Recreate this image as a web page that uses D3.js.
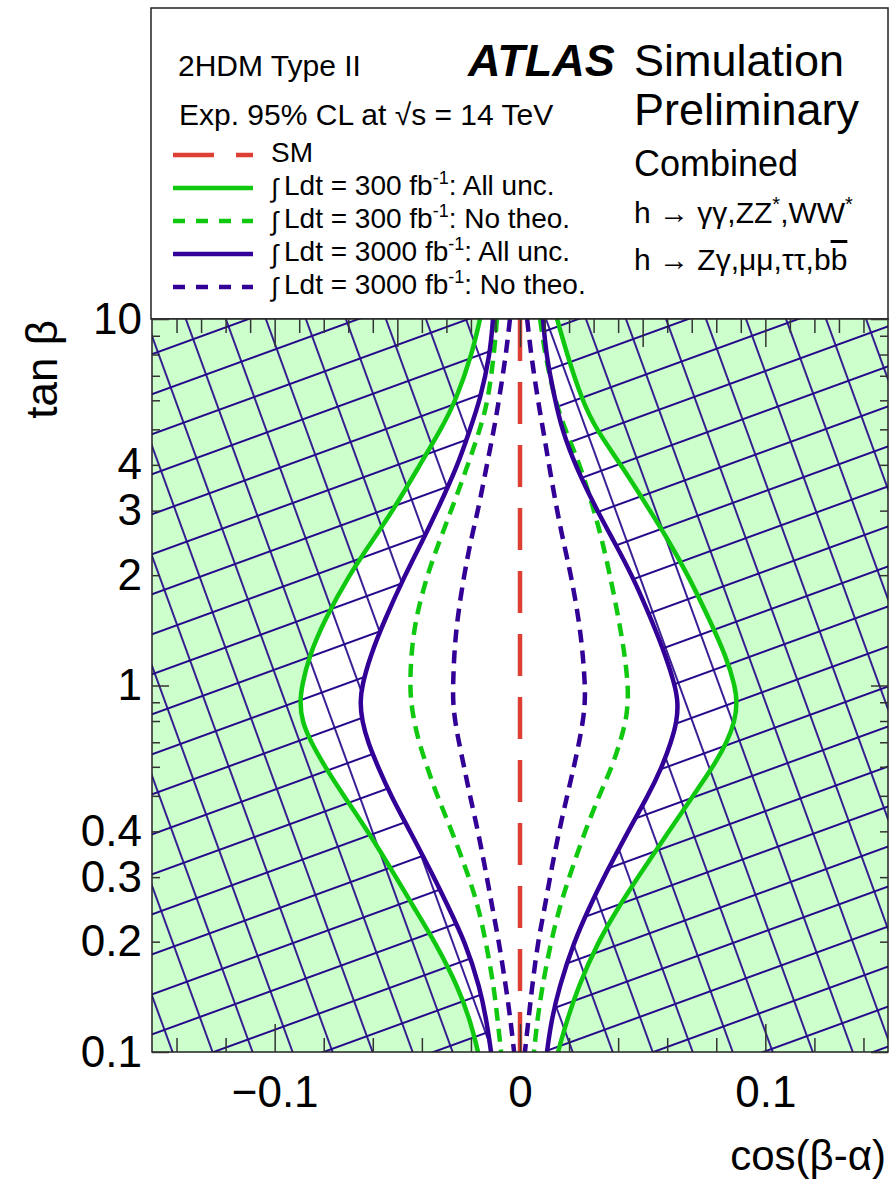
<!DOCTYPE html>
<html>
<head>
<meta charset="utf-8">
<script src="https://cdn.jsdelivr.net/npm/d3@7"></script>
<style>
  body { margin: 0; background: #fff; }
  text { font-family: "Liberation Sans", Arial, sans-serif; fill: #000; }
</style>
</head>
<body>
<div id="chart"></div>
<script>
// tan(beta) sample points, top to bottom
const tanBeta = [10, 8, 6, 5, 4, 3, 2.5, 2, 1.5, 1.2, 1, 0.9, 0.8, 0.7, 0.6, 0.5, 0.4, 0.3, 0.25, 0.2, 0.15, 0.12, 0.1];

// cos(beta-alpha) contour edges (left / right) for each scenario
const all300Lo = [-0.0163, -0.0196, -0.0261, -0.0322, -0.0408, -0.0518, -0.0599, -0.0697, -0.0799, -0.0860, -0.0889, -0.0897, -0.0889, -0.0852, -0.0795, -0.0718, -0.0620, -0.0505, -0.0436, -0.0347, -0.0251, -0.0200, -0.0171];
const all300Hi = [0.0151, 0.0192, 0.0253, 0.0310, 0.0412, 0.0530, 0.0603, 0.0685, 0.0775, 0.0840, 0.0876, 0.0885, 0.0876, 0.0844, 0.0787, 0.0705, 0.0607, 0.0481, 0.0404, 0.0318, 0.0236, 0.0188, 0.0155];
const noTheo300Lo = [-0.0094, -0.0106, -0.0130, -0.0163, -0.0212, -0.0281, -0.0326, -0.0379, -0.0428, -0.0444, -0.0448, -0.0444, -0.0432, -0.0412, -0.0379, -0.0338, -0.0277, -0.0208, -0.0171, -0.0139, -0.0106, -0.0090, -0.0077];
const noTheo300Hi = [0.0082, 0.0102, 0.0143, 0.0183, 0.0245, 0.0302, 0.0334, 0.0367, 0.0404, 0.0428, 0.0440, 0.0440, 0.0432, 0.0408, 0.0375, 0.0322, 0.0265, 0.0200, 0.0163, 0.0126, 0.0090, 0.0069, 0.0057];
const all3000Lo = [-0.0110, -0.0122, -0.0163, -0.0204, -0.0253, -0.0338, -0.0395, -0.0469, -0.0554, -0.0611, -0.0644, -0.0652, -0.0644, -0.0620, -0.0579, -0.0526, -0.0448, -0.0351, -0.0294, -0.0224, -0.0163, -0.0135, -0.0118];
const all3000Hi = [0.0094, 0.0106, 0.0143, 0.0171, 0.0224, 0.0314, 0.0379, 0.0457, 0.0538, 0.0595, 0.0632, 0.0644, 0.0640, 0.0616, 0.0579, 0.0522, 0.0440, 0.0342, 0.0285, 0.0220, 0.0159, 0.0126, 0.0110];
const noTheo3000Lo = [-0.0041, -0.0057, -0.0086, -0.0106, -0.0135, -0.0171, -0.0200, -0.0228, -0.0257, -0.0269, -0.0273, -0.0273, -0.0265, -0.0249, -0.0228, -0.0204, -0.0171, -0.0135, -0.0114, -0.0086, -0.0057, -0.0037, -0.0024];
const noTheo3000Hi = [0.0029, 0.0045, 0.0073, 0.0094, 0.0118, 0.0151, 0.0175, 0.0208, 0.0241, 0.0257, 0.0265, 0.0265, 0.0257, 0.0241, 0.0220, 0.0192, 0.0159, 0.0122, 0.0102, 0.0073, 0.0049, 0.0033, 0.0020];
const smValue = [0, 0];
const smTanBeta = [10, 0.1];

// axis ticks
const xLabelTicks = [-0.1, 0, 0.1];
const xBottomMinor = [-0.14, -0.12, -0.08, -0.06, -0.04, -0.02, 0.02, 0.04, 0.06, 0.08, 0.12, 0.14];
const xTopMajor = [-0.1, -0.05, 0, 0.05, 0.1];
const xTopMinor = [-0.14, -0.13, -0.12, -0.11, -0.09, -0.08, -0.07, -0.06, -0.04, -0.03, -0.02, -0.01, 0.01, 0.02, 0.03, 0.04, 0.06, 0.07, 0.08, 0.09, 0.11, 0.12, 0.13, 0.14];
const yLabelTicks = [0.1, 0.2, 0.3, 0.4, 1, 2, 3, 4, 10];
const yMajor = [0.1, 1, 10];
const yMinor = [0.2, 0.3, 0.4, 0.5, 0.6, 0.7, 0.8, 0.9, 2, 3, 4, 5, 6, 7, 8, 9];

// legend
const legendNames = ["SM", "300", "300", "3000", "3000"];
const legendTails = ["", "All unc.", "No theo.", "All unc.", "No theo."];

const W = 895, H = 1187;
const plot = { left: 152, right: 888, top: 319, bottom: 1052 };
const GREEN = "#0fc80f", BLUE = "#320096", RED = "#dd3f33";

const svg = d3.select("#chart").append("svg")
  .attr("width", W).attr("height", H);

const x = d3.scaleLinear().domain([-0.15, 0.15]).range([plot.left, plot.right]);
const y = d3.scaleLog().domain([0.1, 10]).range([plot.bottom, plot.top]);

const defs = svg.append("defs");
defs.append("clipPath").attr("id", "clip")
  .append("rect")
  .attr("x", plot.left).attr("y", plot.top)
  .attr("width", plot.right - plot.left).attr("height", plot.bottom - plot.top);

// cross hatch, grid tilted by 20 degrees
const hs = 37.6;
const pat = defs.append("pattern").attr("id", "hatch")
  .attr("patternUnits", "userSpaceOnUse")
  .attr("width", hs).attr("height", hs)
  .attr("patternTransform", `translate(177.2,625.1) rotate(-20) translate(${-hs / 2},${-hs / 2})`);
pat.append("path")
  .attr("d", `M-2,${hs / 2}H${hs + 2}M${hs / 2},-2V${hs + 2}`)
  .attr("stroke", "#26088a").attr("stroke-width", 1.8).attr("fill", "none");

// legend frame
svg.append("rect")
  .attr("x", 151).attr("y", 8).attr("width", 737).attr("height", 311)
  .attr("fill", "#fff").attr("stroke", "#222").attr("stroke-width", 1.5);

const g = svg.append("g").attr("clip-path", "url(#clip)");
g.append("rect")
  .attr("x", plot.left).attr("y", plot.top)
  .attr("width", plot.right - plot.left).attr("height", plot.bottom - plot.top)
  .attr("fill", "#fff");

function sideArea(vals, edge) {
  return d3.area()
    .curve(d3.curveBasis)
    .y((d, i) => y(tanBeta[i]))
    .x0(edge)
    .x1(d => x(d))(vals);
}
function contour(vals) {
  return d3.line()
    .curve(d3.curveBasis)
    .x(d => x(d))
    .y((d, i) => y(tanBeta[i]))(vals);
}

// excluded regions
g.append("path").attr("d", sideArea(all300Lo, plot.left)).attr("fill", "#ccffcc");
g.append("path").attr("d", sideArea(all300Hi, plot.right)).attr("fill", "#ccffcc");
g.append("path").attr("d", sideArea(all3000Lo, plot.left)).attr("fill", "url(#hatch)");
g.append("path").attr("d", sideArea(all3000Hi, plot.right)).attr("fill", "url(#hatch)");

const curves = [
  { lo: noTheo3000Lo, hi: noTheo3000Hi, color: BLUE, dash: "13,8" },
  { lo: noTheo300Lo, hi: noTheo300Hi, color: GREEN, dash: "13,8" },
  { lo: all3000Lo, hi: all3000Hi, color: BLUE, dash: null },
  { lo: all300Lo, hi: all300Hi, color: GREEN, dash: null }
];
curves.forEach(c => {
  [c.lo, c.hi].forEach(v => {
    g.append("path").attr("d", contour(v))
      .attr("fill", "none").attr("stroke", c.color)
      .attr("stroke-width", 4.5)
      .attr("stroke-dasharray", c.dash);
  });
});

// SM line
g.append("path")
  .attr("d", d3.line().x(d => x(d[0])).y(d => y(d[1]))(d3.zip(smValue, smTanBeta)))
  .attr("stroke", RED).attr("stroke-width", 4.5).attr("stroke-dasharray", "42,21");

// frame
svg.append("rect")
  .attr("x", plot.left).attr("y", plot.top)
  .attr("width", plot.right - plot.left).attr("height", plot.bottom - plot.top)
  .attr("fill", "none").attr("stroke", "#222").attr("stroke-width", 1.5);

function ticks(axis, at) {
  const a = svg.append("g").attr("transform", at).call(axis);
  a.select(".domain").remove();
  a.selectAll(".tick line").attr("stroke", "#333").attr("stroke-width", 1.5);
  return a;
}
ticks(d3.axisBottom(x).tickValues(xBottomMinor).tickSizeInner(-14).tickSizeOuter(0).tickFormat(""), `translate(0,${plot.bottom})`);
ticks(d3.axisTop(x).tickValues(xTopMinor).tickSizeInner(-14).tickSizeOuter(0).tickFormat(""), `translate(0,${plot.top})`);
ticks(d3.axisTop(x).tickValues(xTopMajor).tickSizeInner(-28).tickSizeOuter(0).tickFormat(""), `translate(0,${plot.top})`);
ticks(d3.axisLeft(y).tickValues(yMinor).tickSizeInner(-8).tickSizeOuter(0).tickFormat(""), `translate(${plot.left},0)`);
ticks(d3.axisRight(y).tickValues(yMinor).tickSizeInner(-8).tickSizeOuter(0).tickFormat(""), `translate(${plot.right},0)`);
ticks(d3.axisRight(y).tickValues(yMajor).tickSizeInner(-17).tickSizeOuter(0).tickFormat(""), `translate(${plot.right},0)`);

const xb = ticks(d3.axisBottom(x).tickValues(xLabelTicks).tickSizeInner(-28).tickSizeOuter(0)
  .tickPadding(24).tickFormat(d3.format("~g")), `translate(0,${plot.bottom})`);
xb.selectAll("text").attr("font-size", 44).attr("font-family", "Liberation Sans, Arial, sans-serif");

const yl = ticks(d3.axisLeft(y).tickValues(yLabelTicks).tickSizeInner(0).tickSizeOuter(0)
  .tickPadding(10).tickFormat(d3.format("~g")), `translate(${plot.left},0)`);
yl.selectAll("text").attr("font-size", 44).attr("font-family", "Liberation Sans, Arial, sans-serif");
ticks(d3.axisLeft(y).tickValues(yMajor).tickSizeInner(-17).tickSizeOuter(0).tickFormat(""), `translate(${plot.left},0)`);

// axis titles
svg.append("text").attr("transform", "translate(57,320) rotate(-90)")
  .attr("text-anchor", "end").attr("font-size", 44).text("tan β");
svg.append("text").attr("x", 886).attr("y", 1170)
  .attr("text-anchor", "end").attr("font-size", 42).text("cos(β-α)");

// header texts
svg.append("text").attr("x", 178).attr("y", 76).attr("font-size", 30).text("2HDM Type II");
svg.append("text").attr("x", 179).attr("y", 125).attr("font-size", 30).text("Exp. 95% CL at √s = 14 TeV");
svg.append("text").attr("x", 468).attr("y", 76).attr("font-size", 45)
  .attr("font-weight", "bold").attr("font-style", "italic").text("ATLAS");
svg.append("text").attr("x", 634).attr("y", 76).attr("font-size", 45).text("Simulation");
svg.append("text").attr("x", 634).attr("y", 125).attr("font-size", 45).text("Preliminary");
svg.append("text").attr("x", 634).attr("y", 176).attr("font-size", 36).text("Combined");

const ch1 = svg.append("text").attr("x", 634).attr("y", 223).attr("font-size", 30);
ch1.append("tspan").text("h → γγ,ZZ");
ch1.append("tspan").attr("dy", -12).attr("font-size", 20).text("*");
ch1.append("tspan").attr("dy", 12).text(",WW");
ch1.append("tspan").attr("dy", -12).attr("font-size", 20).text("*");
const ch2 = svg.append("text").attr("x", 634).attr("y", 270).attr("font-size", 30);
ch2.append("tspan").text("h → Zγ,μμ,ττ,b");
ch2.append("tspan").attr("text-decoration", "overline").text("b");

// legend rows
const legendStyles = [
  { color: RED, dash: "41,22" },
  { color: GREEN, dash: null },
  { color: GREEN, dash: "12,11" },
  { color: BLUE, dash: null },
  { color: BLUE, dash: "12,11" }
];
legendNames.forEach((name, i) => {
  const ly = 155 + i * 33;
  svg.append("line").attr("x1", 173).attr("x2", 253).attr("y1", ly).attr("y2", ly)
    .attr("stroke", legendStyles[i].color).attr("stroke-width", 4.5)
    .attr("stroke-dasharray", legendStyles[i].dash);
  if (i === 0) {
    svg.append("text").attr("x", 271).attr("y", 162).attr("font-size", 28).text(name);
  } else {
    const base = ly + 7;
    svg.append("text").attr("x", 271).attr("y", base + 2).attr("font-size", 26)
      .attr("font-family", "DejaVu Sans").text("∫");
    const t = svg.append("text").attr("x", 284).attr("y", base).attr("font-size", 28);
    t.append("tspan").text(`Ldt = ${name} fb`);
    t.append("tspan").attr("dy", -11).attr("font-size", 18).text("-1");
    t.append("tspan").attr("dy", 11).text(`: ${legendTails[i]}`);
  }
});
</script>
</body>
</html>
